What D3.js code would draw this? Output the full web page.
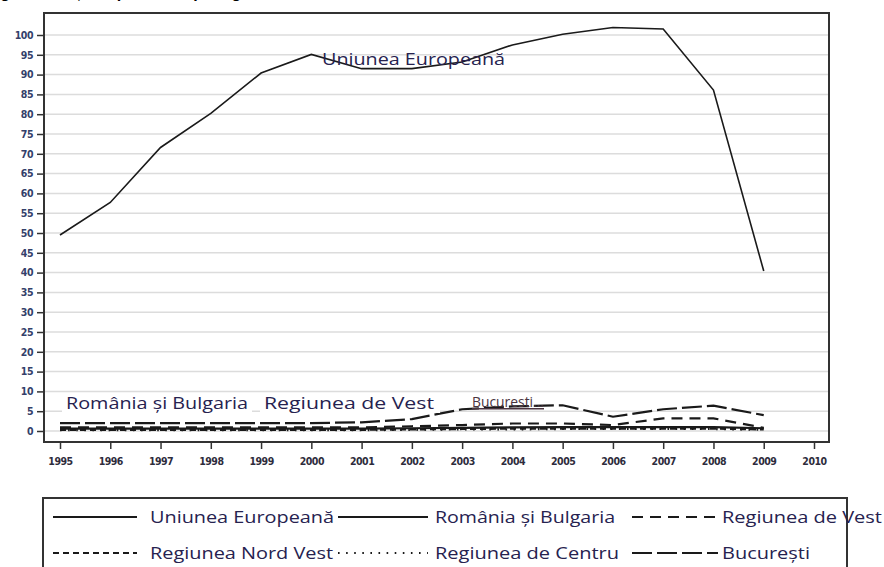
<!DOCTYPE html>
<html>
<head>
<meta charset="utf-8">
<script src="https://cdn.jsdelivr.net/npm/d3@7"></script>
<style>
  body { margin: 0; background: #fff; }
  svg { display: block; }
</style>
</head>
<body>
<div id="chart"></div>
<script>
// ani si valori
const years = [1995, 1996, 1997, 1998, 1999, 2000, 2001, 2002, 2003, 2004, 2005, 2006, 2007, 2008, 2009];
const xTicks = [1995, 1996, 1997, 1998, 1999, 2000, 2001, 2002, 2003, 2004, 2005, 2006, 2007, 2008, 2009, 2010];
const xTickLabels = ["1995", "1996", "1997", "1998", "1999", "2000", "2001", "2002", "2003", "2004", "2005", "2006", "2007", "2008", "2009", "2010"];
const yTicks = d3.range(0, 101, 5);

const ue = [49.5, 57.7, 71.6, 80.2, 90.4, 95.1, 91.5, 91.5, 93.2, 97.5, 100.2, 101.9, 101.5, 86.1, 40.4];
const romaniaBulgaria = [0.6, 0.6, 0.6, 0.6, 0.6, 0.6, 0.6, 0.7, 0.8, 0.9, 1.0, 1.0, 1.0, 1.0, 0.7];
const regiuneaVest = [0.9, 0.9, 0.9, 0.9, 0.9, 0.9, 0.9, 1.2, 1.5, 1.9, 1.9, 1.5, 3.2, 3.2, 0.8];
const regiuneaNordVest = [0.3, 0.3, 0.3, 0.3, 0.3, 0.3, 0.3, 0.4, 0.5, 0.6, 0.6, 0.6, 0.6, 0.6, 0.4];
const regiuneaCentru = [0.2, 0.2, 0.2, 0.2, 0.2, 0.2, 0.2, 0.3, 0.4, 0.4, 0.5, 0.5, 0.5, 0.5, 0.3];
const bucuresti = [2.0, 2.0, 2.0, 2.0, 2.0, 2.0, 2.2, 3.0, 5.5, 6.2, 6.5, 3.6, 5.5, 6.4, 4.0];

const seriesNames = ["Uniunea Europeană", "România și Bulgaria", "Regiunea de Vest",
                     "Regiunea Nord Vest", "Regiunea de Centru", "București"];
const seriesValues = [ue, romaniaBulgaria, regiuneaVest, regiuneaNordVest, regiuneaCentru, bucuresti];
const dashes = [null, null, "11,7", "6,4", "1.6,6.5", "20,5"];

const W = 884, H = 567;
const frame = { left: 44, top: 13, right: 829, bottom: 442 };
const TEXT = "#26224f";
const FONT = "Open Sans, sans-serif";

const svg = d3.select("#chart").append("svg")
    .attr("width", W)
    .attr("height", H);

// titlu (taiat de marginea de sus, ca in original)
svg.append("text")
    .attr("x", -14).attr("y", -2)
    .style("font-family", "Liberation Sans, Arial, sans-serif")
    .style("font-weight", "bold")
    .style("font-size", "16px")
    .attr("fill", "#000")
    .text("Fig. 3 Evoluția exporturilor pe regiuni");

const x = d3.scaleLinear()
    .domain([1995, 2010])
    .range([60, 814]);
const y = d3.scaleLinear()
    .domain([0, 100])
    .range([431, 35]);

// grila orizontala
svg.append("g").selectAll("line")
    .data(yTicks)
    .enter().append("line")
    .attr("x1", frame.left).attr("x2", frame.right)
    .attr("y1", d => y(d)).attr("y2", d => y(d))
    .attr("stroke", "#dcdcdc")
    .attr("stroke-width", 1.5);

function styleTicks(g, color) {
    g.select(".domain").remove();
    g.selectAll(".tick line").attr("stroke", "#333").attr("stroke-width", 1.5);
    g.selectAll(".tick text")
        .attr("fill", color)
        .style("font-family", "DejaVu Sans Condensed, DejaVu Sans, sans-serif")
        .style("font-weight", "bold")
        .style("font-size", "10.5px")
        .style("letter-spacing", "-0.5px");
}

// axa y
const yAxis = svg.append("g")
    .attr("transform", `translate(${frame.left},0)`)
    .call(d3.axisLeft(y).tickValues(yTicks).tickSize(7).tickPadding(4));
styleTicks(yAxis, "#33406a");

// axa x
const xAxis = svg.append("g")
    .attr("transform", `translate(0,${frame.bottom})`)
    .call(d3.axisBottom(x).tickValues(xTicks).tickFormat((d, i) => xTickLabels[i]).tickSize(7).tickPadding(9));
styleTicks(xAxis, "#2e2c3c");

// serii
const line = d3.line()
    .x((d, i) => x(years[i]))
    .y(d => y(d));

svg.append("g").selectAll("path")
    .data(seriesValues)
    .enter().append("path")
    .attr("d", d => line(d))
    .attr("fill", "none")
    .attr("stroke", "#1a1a1a")
    .attr("stroke-width", (d, i) => i === 0 ? 1.6 : 2.2)
    .attr("stroke-dasharray", (d, i) => dashes[i]);

// etichete in grafic
function plotLabel(txt, lx, ly, w, boxW) {
    if (boxW) {
        svg.append("rect")
            .attr("x", lx - 4).attr("y", ly - 14)
            .attr("width", boxW).attr("height", 18)
            .attr("fill", "#fff");
    }
    svg.append("text")
        .attr("x", lx).attr("y", ly)
        .attr("fill", TEXT)
        .style("font-family", FONT)
        .style("font-size", "16px")
        .attr("textLength", w)
        .attr("lengthAdjust", "spacingAndGlyphs")
        .text(txt);
}
plotLabel(seriesNames[0], 322, 65, 183, 0);
plotLabel(seriesNames[1], 66, 409, 182, 190);
plotLabel(seriesNames[2], 264, 409, 170, 180);
svg.append("text")
    .attr("x", 472).attr("y", 407)
    .attr("fill", "#4a3440")
    .style("font-family", FONT)
    .style("font-size", "15px")
    .style("text-decoration", "underline")
    .attr("textLength", 72)
    .attr("lengthAdjust", "spacingAndGlyphs")
    .text("Bucuresti...");

// cadru
svg.append("rect")
    .attr("x", frame.left).attr("y", frame.top)
    .attr("width", frame.right - frame.left)
    .attr("height", frame.bottom - frame.top)
    .attr("fill", "none")
    .attr("stroke", "#333")
    .attr("stroke-width", 2);

// legenda
svg.append("rect")
    .attr("x", 43).attr("y", 498)
    .attr("width", 804).attr("height", 80)
    .attr("fill", "none")
    .attr("stroke", "#333")
    .attr("stroke-width", 2);

const legendCols = [
    { x1: 53, x2: 137, tx: 150 },
    { x1: 338, x2: 428, tx: 435 },
    { x1: 632, x2: 718, tx: 722 }
];
const legendRows = [517, 553];
const legendTextW = [184, 180, 160, 183, 184, 88];

const leg = svg.append("g").selectAll("g")
    .data(seriesNames)
    .enter().append("g");
leg.append("line")
    .attr("x1", (d, i) => legendCols[i % 3].x1)
    .attr("x2", (d, i) => legendCols[i % 3].x2)
    .attr("y1", (d, i) => legendRows[Math.floor(i / 3)])
    .attr("y2", (d, i) => legendRows[Math.floor(i / 3)])
    .attr("stroke", "#1a1a1a")
    .attr("stroke-width", 1.8)
    .attr("stroke-dasharray", (d, i) => dashes[i]);
leg.append("text")
    .attr("x", (d, i) => legendCols[i % 3].tx)
    .attr("y", (d, i) => legendRows[Math.floor(i / 3)] + 6)
    .attr("fill", TEXT)
    .style("font-family", FONT)
    .style("font-size", "16px")
    .attr("textLength", (d, i) => legendTextW[i])
    .attr("lengthAdjust", "spacingAndGlyphs")
    .text(d => d);
</script>
</body>
</html>
